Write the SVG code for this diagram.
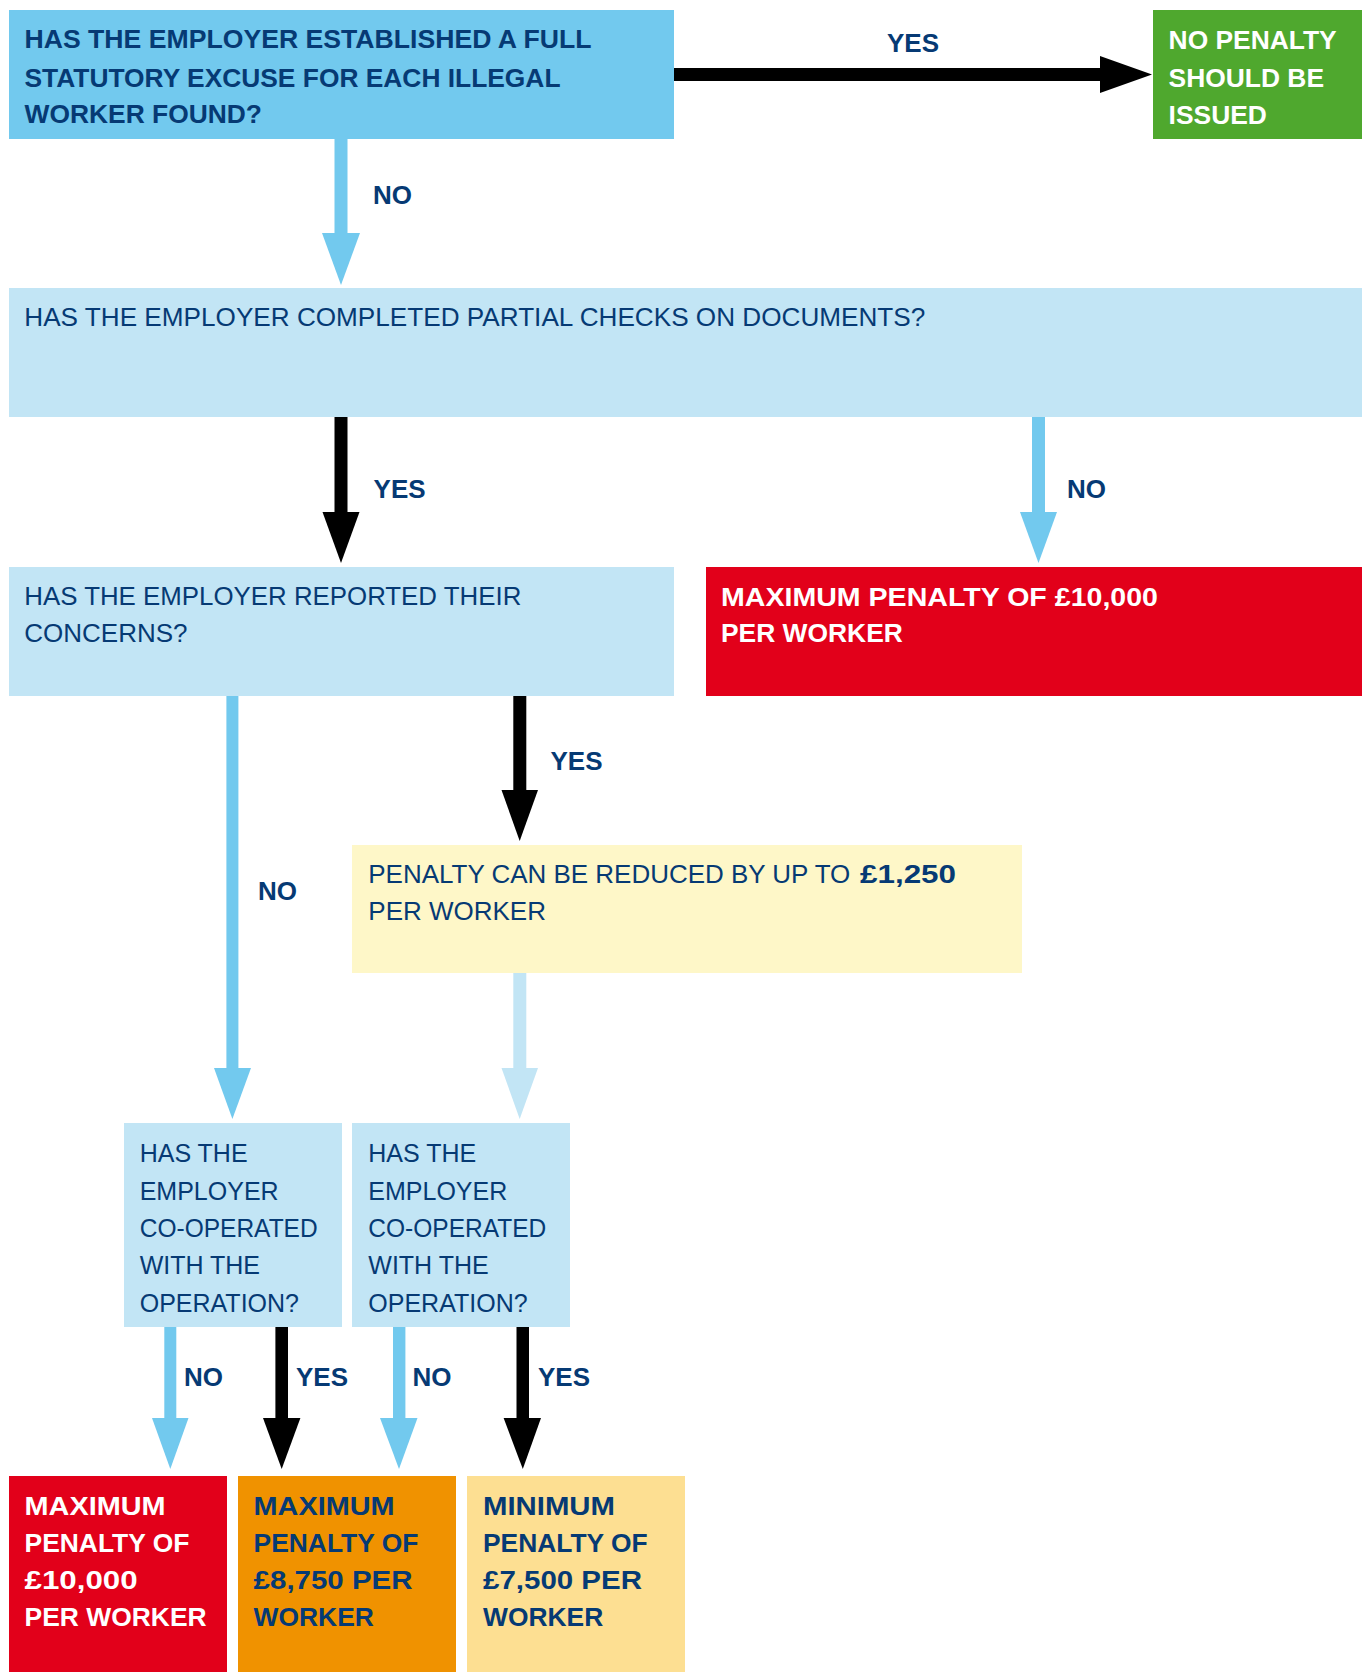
<svg xmlns="http://www.w3.org/2000/svg" width="1362" height="1672" viewBox="0 0 1362 1672">
<style>
  text { font-family: "Liberation Sans", Arial, sans-serif; }
  .b { font-weight: bold; font-size: 26.4px; }
  .r { font-weight: normal; font-size: 26px; }
  .rs { font-weight: normal; font-size: 25px; }
  .lbl { font-weight: bold; font-size: 26px; fill: #063a74; }
  .dk { fill: #063a74; }
  .wh { fill: #ffffff; }
  .blue { fill: #72c9ee; }
  .pale { fill: #c2e5f5; }
  .blk { fill: #000000; }
</style>
<rect width="1362" height="1672" fill="#ffffff"/>

<g id="connectors">
  <!-- YES: full excuse -> no penalty -->
  <g id="c1" class="blk"><rect x="674" y="68" width="427" height="13"/><polygon points="1100,56 1152,74.5 1100,93"/></g>
  <text class="lbl" x="887" y="52">YES</text>
  <!-- NO: full excuse -> partial checks -->
  <g id="c2" class="blue"><rect x="334.5" y="138" width="13" height="96"/><polygon points="322,233 341,285 360,233"/></g>
  <text class="lbl" x="373" y="204">NO</text>
  <!-- YES: partial -> reported -->
  <g id="c3" class="blk"><rect x="334.5" y="416" width="13" height="97"/><polygon points="322.5,512 341,563 359.5,512"/></g>
  <text class="lbl" x="373.6" y="498">YES</text>
  <!-- NO: partial -> max penalty -->
  <g id="c4" class="blue"><rect x="1032" y="416" width="13" height="97"/><polygon points="1020,512 1038.5,563 1057,512"/></g>
  <text class="lbl" x="1067" y="498">NO</text>
  <!-- NO: reported -> coop left -->
  <g id="c5" class="blue"><rect x="226.4" y="695" width="12" height="374"/><polygon points="214,1068 232.4,1119 251,1068"/></g>
  <text class="lbl" x="258" y="900">NO</text>
  <!-- YES: reported -> reduced -->
  <g id="c6" class="blk"><rect x="513.3" y="695" width="13" height="96"/><polygon points="501.5,790 519.7,841 538,790"/></g>
  <text class="lbl" x="550.5" y="770">YES</text>
  <!-- reduced -> coop right -->
  <g id="c7" class="pale"><rect x="513.3" y="973" width="13" height="96"/><polygon points="501.5,1068 519.7,1119 538,1068"/></g>
  <!-- bottom arrows -->
  <g id="c8" class="blue"><rect x="164.3" y="1326" width="12" height="93"/><polygon points="152,1418 170.3,1469 188.5,1418"/></g>
  <text class="lbl" x="184" y="1386">NO</text>
  <g id="c9" class="blk"><rect x="275.4" y="1326" width="12.6" height="93"/><polygon points="263,1418 281.7,1469 300.4,1418"/></g>
  <text class="lbl" x="296" y="1386">YES</text>
  <g id="c10" class="blue"><rect x="393" y="1326" width="12.4" height="93"/><polygon points="380,1418 399,1469 417.5,1418"/></g>
  <text class="lbl" x="412.5" y="1386">NO</text>
  <g id="c11" class="blk"><rect x="516.5" y="1326" width="12.5" height="93"/><polygon points="503.6,1418 522.8,1469 541,1418"/></g>
  <text class="lbl" x="538" y="1386">YES</text>
</g>

<g id="q-full-excuse">
  <rect x="9" y="10" width="665" height="129" fill="#72c9ee"/>
  <text class="b dk" x="24.5" y="48.3" textLength="567" lengthAdjust="spacingAndGlyphs">HAS THE EMPLOYER ESTABLISHED A FULL</text>
  <text class="b dk" x="24.5" y="86.7" textLength="536" lengthAdjust="spacingAndGlyphs">STATUTORY EXCUSE FOR EACH ILLEGAL</text>
  <text class="b dk" x="24.5" y="123.3">WORKER FOUND?</text>
</g>

<g id="no-penalty">
  <rect x="1153" y="10" width="209" height="129" fill="#4fa82e"/>
  <text class="b wh" x="1168.6" y="49">NO PENALTY</text>
  <text class="b wh" x="1168.6" y="87">SHOULD BE</text>
  <text class="b wh" x="1168.6" y="124">ISSUED</text>
</g>

<g id="q-partial-checks">
  <rect x="9" y="288" width="1353" height="129" fill="#c2e5f5"/>
  <text class="r dk" x="24.3" y="326" textLength="901" lengthAdjust="spacingAndGlyphs">HAS THE EMPLOYER COMPLETED PARTIAL CHECKS ON DOCUMENTS?</text>
</g>

<g id="q-reported">
  <rect x="9" y="567" width="665" height="129" fill="#c2e5f5"/>
  <text class="r dk" x="24.3" y="605" textLength="497" lengthAdjust="spacingAndGlyphs">HAS THE EMPLOYER REPORTED THEIR</text>
  <text class="r dk" x="24.3" y="642">CONCERNS?</text>
</g>

<g id="max-penalty-10000-a">
  <rect x="706" y="567" width="656" height="129" fill="#e2001a"/>
  <text class="b wh" x="721" y="606" textLength="437" lengthAdjust="spacingAndGlyphs">MAXIMUM PENALTY OF £10,000</text>
  <text class="b wh" x="721" y="642">PER WORKER</text>
</g>

<g id="reduced">
  <rect x="352" y="845" width="670" height="128" fill="#fef7c8"/>
  <text class="r dk" x="368.3" y="883" textLength="482" lengthAdjust="spacingAndGlyphs">PENALTY CAN BE REDUCED BY UP TO</text>
  <text class="b dk" x="860" y="883" textLength="96" lengthAdjust="spacingAndGlyphs">£1,250</text>
  <text class="r dk" x="368.3" y="920">PER WORKER</text>
</g>

<g id="q-coop-left">
  <rect x="124" y="1123" width="218" height="204" fill="#c2e5f5"/>
  <text class="rs dk" x="139.7" y="1162">HAS THE</text>
  <text class="rs dk" x="139.7" y="1199.5">EMPLOYER</text>
  <text class="rs dk" x="139.7" y="1237" textLength="178" lengthAdjust="spacingAndGlyphs">CO-OPERATED</text>
  <text class="rs dk" x="139.7" y="1274">WITH THE</text>
  <text class="rs dk" x="139.7" y="1311.6">OPERATION?</text>
</g>

<g id="q-coop-right">
  <rect x="352" y="1123" width="218" height="204" fill="#c2e5f5"/>
  <text class="rs dk" x="368.3" y="1162">HAS THE</text>
  <text class="rs dk" x="368.3" y="1199.5">EMPLOYER</text>
  <text class="rs dk" x="368.3" y="1237" textLength="178" lengthAdjust="spacingAndGlyphs">CO-OPERATED</text>
  <text class="rs dk" x="368.3" y="1274">WITH THE</text>
  <text class="rs dk" x="368.3" y="1311.6">OPERATION?</text>
</g>

<g id="max-penalty-10000-b">
  <rect x="9" y="1476" width="218" height="196" fill="#e2001a"/>
  <text class="b wh" x="24.6" y="1515" textLength="141" lengthAdjust="spacingAndGlyphs">MAXIMUM</text>
  <text class="b wh" x="24.6" y="1552">PENALTY OF</text>
  <text class="b wh" x="24.6" y="1589" textLength="113" lengthAdjust="spacingAndGlyphs">£10,000</text>
  <text class="b wh" x="24.6" y="1625.5" textLength="182" lengthAdjust="spacingAndGlyphs">PER WORKER</text>
</g>

<g id="max-penalty-8750">
  <rect x="238" y="1476" width="218" height="196" fill="#f09200"/>
  <text class="b dk" x="253.6" y="1515" textLength="141" lengthAdjust="spacingAndGlyphs">MAXIMUM</text>
  <text class="b dk" x="253.6" y="1552">PENALTY OF</text>
  <text class="b dk" x="253.6" y="1589" textLength="159" lengthAdjust="spacingAndGlyphs">£8,750 PER</text>
  <text class="b dk" x="253.6" y="1625.5">WORKER</text>
</g>

<g id="min-penalty-7500">
  <rect x="467" y="1476" width="218" height="196" fill="#fddf92"/>
  <text class="b dk" x="483" y="1515" textLength="132" lengthAdjust="spacingAndGlyphs">MINIMUM</text>
  <text class="b dk" x="483" y="1552">PENALTY OF</text>
  <text class="b dk" x="483" y="1589" textLength="159" lengthAdjust="spacingAndGlyphs">£7,500 PER</text>
  <text class="b dk" x="483" y="1625.5">WORKER</text>
</g>
</svg>
